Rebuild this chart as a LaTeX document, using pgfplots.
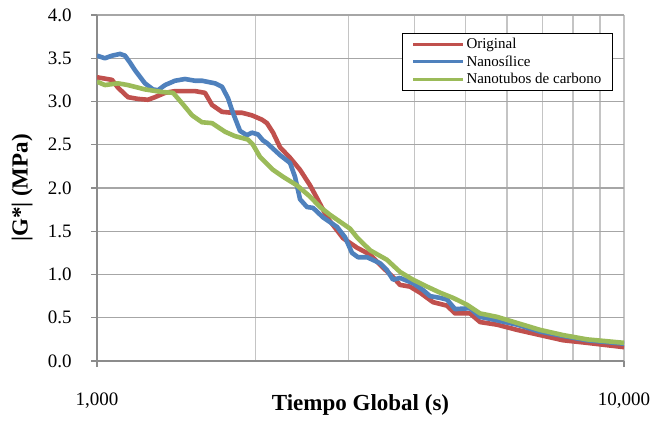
\documentclass[border=0pt]{standalone}
\usepackage{pgfplots}
\pgfplotsset{compat=1.18}
\usepackage{fontspec}
\setmainfont{Liberation Serif}
\definecolor{cred}{HTML}{C0504D}
\definecolor{cblue}{HTML}{4F81BD}
\definecolor{cgreen}{HTML}{9BBB59}
\definecolor{gridh}{HTML}{A6A6A6}
\definecolor{gridv}{HTML}{C4C4C4}
\definecolor{frame}{HTML}{8C8C8C}
\begin{document}
\begin{tikzpicture}
\begin{axis}[
  name=ax,
  xmode=log,
  scale only axis,
  width=527bp, height=346bp,
  xmin=1000, xmax=10000,
  ymin=0, ymax=4,
  axis x line*=bottom, axis y line*=left,
  xtick={1000,10000},
  xticklabels={{1,000},{10,000}},
  ytick={0,0.5,1,1.5,2,2.5,3,3.5,4},
  yticklabels={0.0,0.5,1.0,1.5,2.0,2.5,3.0,3.5,4.0},
  tick label style={font=\fontsize{19bp}{21bp}\selectfont, black},
  yticklabel style={anchor=east, xshift=-16bp},
  xticklabel style={yshift=-22bp},
  tick align=outside,
  major tick length=6bp,
  minor tick length=0pt,
  axis line style={-, frame, line width=1.3bp},
  tick style={frame, line width=1.3bp},
  ymajorgrids, xminorgrids, xmajorgrids,
  major y grid style={gridh, line width=1.3bp},
  major x grid style={gridv, line width=1.3bp},
  minor x grid style={gridv, line width=1.3bp},
  xlabel={\textbf{Tiempo Global (s)}},
  ylabel={\textbf{|G*| (MPa)}},
  label style={font=\fontsize{23bp}{25bp}\selectfont},
  xlabel style={at={(axis description cs:0.5,0)}, anchor=center, yshift=-44bp},
  ylabel style={at={(axis description cs:0,0.5)}, anchor=center, yshift=75bp},
  legend style={at={(0.979,0.948)}, anchor=north east, draw=black, line width=1bp,
    font=\fontsize{15bp}{17bp}\selectfont, row sep=1.5bp, inner xsep=9bp, inner ysep=3bp},
  legend cell align=left,
  legend image code/.code={\draw[#1, line width=3bp] (0bp,0bp) -- (50bp,0bp);},
  every axis plot/.append style={line width=4.6bp, line join=round},
]
\addplot[cred] coordinates {
(1000,3.28) (1068,3.25) (1096,3.16) (1145,3.05) (1196,3.03) (1249,3.02) (1288,3.05)
(1346,3.10) (1406,3.12) (1535,3.12) (1603,3.10) (1653,2.96) (1727,2.88) (1803,2.87)
(1884,2.87) (1968,2.84) (2056,2.79) (2101,2.75) (2158,2.64) (2225,2.47) (2324,2.35)
(2428,2.21) (2537,2.03) (2616,1.88) (2733,1.66) (2930,1.42) (3114,1.31) (3297,1.23)
(3488,1.08) (3645,0.97) (3758,0.88) (3926,0.86) (4102,0.79) (4341,0.68) (4615,0.64)
(4779,0.55) (5103,0.55) (5332,0.45) (5742,0.42) (6266,0.36) (6928,0.30) (7660,0.24)
(8507,0.21) (10000,0.16)
};
\addlegendentry{Original}
\addplot[cblue] coordinates {
(1000,3.53) (1035,3.50) (1068,3.53) (1106,3.55) (1130,3.53) (1155,3.45) (1181,3.36)
(1233,3.21) (1277,3.14) (1305,3.13) (1346,3.19) (1406,3.24) (1469,3.26) (1535,3.24)
(1582,3.24) (1675,3.21) (1727,3.17) (1772,3.04) (1811,2.87) (1868,2.66) (1925,2.61)
(1968,2.64) (2020,2.62) (2065,2.55) (2101,2.52) (2225,2.38) (2324,2.29) (2375,2.13)
(2428,1.87) (2503,1.78) (2570,1.77) (2685,1.66) (2854,1.55) (2956,1.43) (3047,1.25)
(3128,1.20) (3254,1.20) (3444,1.13) (3550,1.05) (3645,0.94) (3758,0.96) (3977,0.90)
(4156,0.82) (4285,0.75) (4476,0.73) (4615,0.71) (4779,0.60) (5103,0.61) (5332,0.51)
(5742,0.47) (6266,0.42) (6928,0.34) (7660,0.29) (8507,0.24) (10000,0.20)
};
\addlegendentry{Nanosílice}
\addplot[cgreen] coordinates {
(1000,3.23) (1035,3.19) (1096,3.21) (1145,3.19) (1233,3.14) (1328,3.11) (1394,3.10)
(1450,2.98) (1515,2.84) (1582,2.76) (1653,2.75) (1750,2.65) (1827,2.60) (1934,2.56)
(1977,2.50) (2038,2.36) (2158,2.21) (2254,2.13) (2396,2.03) (2537,1.90) (2650,1.78)
(2768,1.69) (2892,1.61) (3021,1.53) (3114,1.43) (3297,1.28) (3550,1.17) (3758,1.03)
(3977,0.94) (4229,0.86) (4476,0.79) (4738,0.73) (5037,0.65) (5332,0.55) (5742,0.51)
(6266,0.44) (6928,0.36) (7660,0.30) (8507,0.25) (10000,0.21)
};
\addlegendentry{Nanotubos de carbono}
\end{axis}
\pgfresetboundingbox
\path (ax.south west) ++(-97bp,-60bp) rectangle ++(654bp,421bp);
\end{tikzpicture}
\end{document}
